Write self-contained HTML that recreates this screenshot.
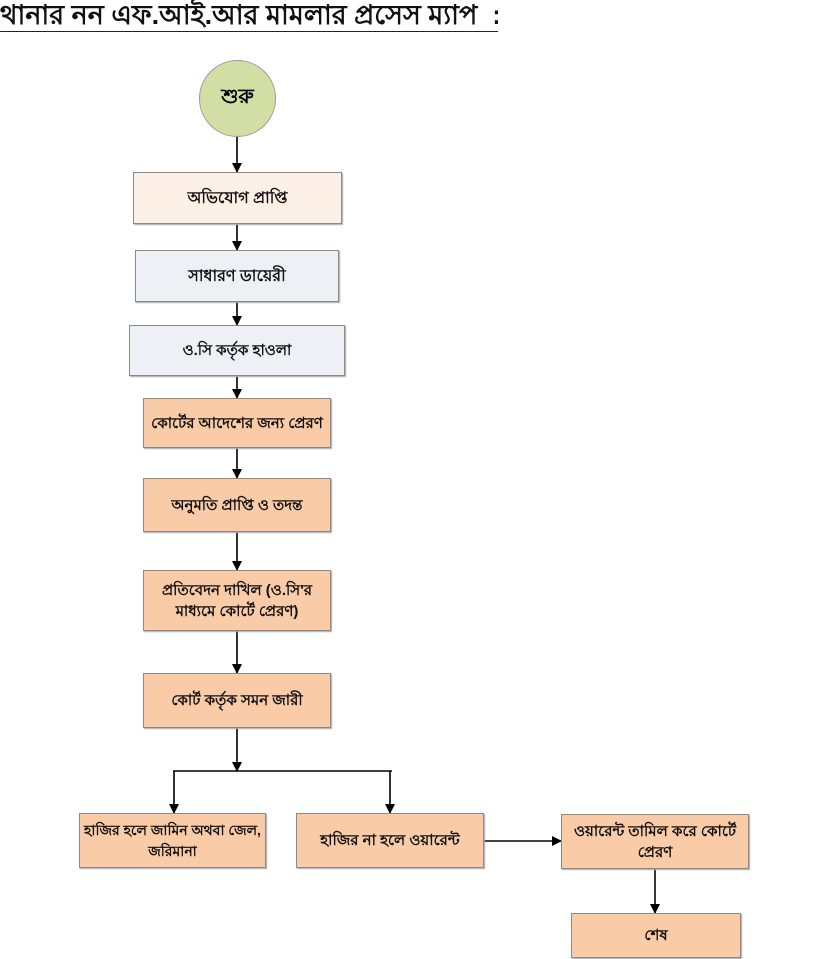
<!DOCTYPE html>
<html><head><meta charset="utf-8"><style>
html,body{margin:0;padding:0;background:#fff;width:819px;height:959px;overflow:hidden;position:relative;font-family:"Liberation Sans","Noto Sans CJK SC",sans-serif;}
.t{position:absolute;left:0;top:0;width:498px;height:31px;border-bottom:1.5px solid #222;font-size:27px;line-height:30px;font-weight:bold;color:#111;white-space:nowrap;overflow:hidden;}
.b{position:absolute;box-sizing:border-box;border:1.5px solid #8a8a8a;display:flex;align-items:center;justify-content:center;text-align:center;font-size:15px;font-weight:bold;line-height:21px;color:#111;box-shadow:1px 1px 1px #aaa;padding:0 2px;}
.p{background:#f9cba7;}
.l{background:#eef0f6;}
.c{position:absolute;left:199px;top:60px;width:77px;height:77px;border-radius:50%;background:#d3dea5;border:1px solid #999;box-sizing:border-box;display:flex;align-items:center;justify-content:center;font-size:20px;font-weight:bold;}
svg{position:absolute;left:0;top:0;}
</style></head><body>
<div class="t">থানার নন এফ.আই.আর মামলার প্রসেস ম্যাপ &nbsp;:</div>
<div class="c">শুরু</div>
<svg width="819" height="959">
<defs><marker id="a" markerWidth="10" markerHeight="10" refX="9" refY="5" orient="auto" markerUnits="userSpaceOnUse"><path d="M0,0 L10,5 L0,10z" fill="#000"/></marker></defs>
<g stroke="#000" stroke-width="1.6" fill="none">
<line x1="237" y1="137" x2="237" y2="172" marker-end="url(#a)"/>
<line x1="237" y1="224" x2="237" y2="250" marker-end="url(#a)"/>
<line x1="237" y1="302" x2="237" y2="325" marker-end="url(#a)"/>
<line x1="237" y1="376" x2="237" y2="398" marker-end="url(#a)"/>
<line x1="237" y1="448" x2="237" y2="478" marker-end="url(#a)"/>
<line x1="237" y1="532" x2="237" y2="570" marker-end="url(#a)"/>
<line x1="237" y1="631" x2="237" y2="673" marker-end="url(#a)"/>
<line x1="237" y1="728" x2="237" y2="771" marker-end="url(#a)"/>
<line x1="173" y1="771" x2="392" y2="771"/>
<line x1="174" y1="771" x2="174" y2="813" marker-end="url(#a)"/>
<line x1="390" y1="771" x2="390" y2="813" marker-end="url(#a)"/>
<line x1="484" y1="841" x2="561" y2="841" marker-end="url(#a)"/>
<line x1="655" y1="869" x2="655" y2="913" marker-end="url(#a)"/>
</g></svg>
<div class="b" style="left:133px;top:172px;width:209px;height:52px;background:#fdf0e6;font-size:16px;">অভিযোগ প্রাপ্তি</div>
<div class="b l" style="left:135px;top:250px;width:204px;height:52px;font-size:16px;">সাধারণ ডায়েরী</div>
<div class="b l" style="left:129px;top:325px;width:216px;height:51px;">ও.সি কর্তৃক হাওলা</div>
<div class="b p" style="left:143px;top:398px;width:188px;height:50px;">কোর্টের আদেশের জন্য প্রেরণ</div>
<div class="b p" style="left:143px;top:478px;width:188px;height:54px;">অনুমতি প্রাপ্তি ও তদন্ত</div>
<div class="b p" style="left:143px;top:570px;width:188px;height:61px;">প্রতিবেদন দাখিল (ও.সি'র<br>মাধ্যমে কোর্টে প্রেরণ)</div>
<div class="b p" style="left:143px;top:673px;width:188px;height:55px;">কোর্ট কর্তৃক সমন জারী</div>
<div class="b p" style="left:79px;top:813px;width:187px;height:55px;font-size:14px;">হাজির হলে জামিন অথবা জেল,<br>জরিমানা</div>
<div class="b p" style="left:296px;top:813px;width:188px;height:55px;">হাজির না হলে ওয়ারেন্ট</div>
<div class="b p" style="left:561px;top:814px;width:188px;height:55px;">ওয়ারেন্ট তামিল করে কোর্টে<br>প্রেরণ</div>
<div class="b p" style="left:571px;top:913px;width:170px;height:45px;">শেষ</div>
</body></html>
